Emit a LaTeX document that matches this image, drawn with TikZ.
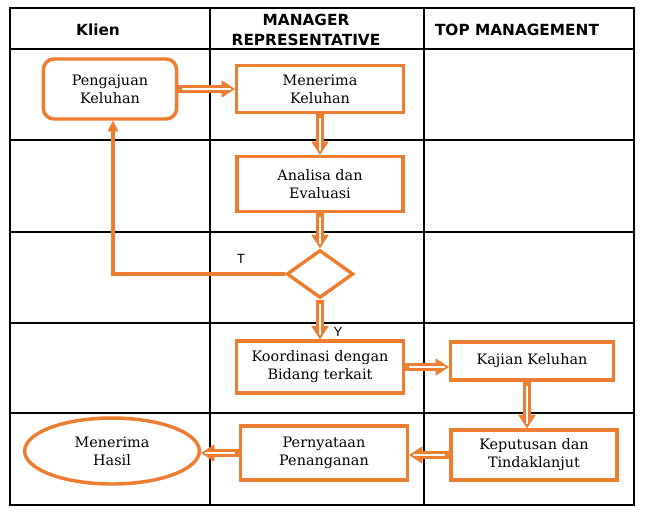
\documentclass[tikz,border=0pt]{standalone}
\usepackage{fontspec}
\setmainfont{DejaVu Serif}
\newfontfamily\headfont{DejaVu Sans}
\newfontfamily\lblfont{Liberation Sans}
\usetikzlibrary{arrows.meta,shapes.geometric,positioning}
\definecolor{oranye}{HTML}{ED7D31}

\begin{document}
\begin{tikzpicture}[x=0.75pt,y=-0.75pt,
  grid/.style={draw=black,line width=0.8pt},
  kepala/.style={font=\fontsize{11.5}{15}\selectfont\headfont\bfseries,align=center},
  box/.style={draw=oranye,line width=2.6pt,fill=white,align=center,
    font=\fontsize{10.8}{13.5}\selectfont,inner sep=2pt},
  panah/.style={draw=oranye,line width=5.5pt,
    -{Triangle[length=10pt,width=13pt,line width=0.4pt]},
    postaction={draw=white,line width=2pt,-,shorten >=3pt,shorten <=3pt}},
  garis/.style={draw=oranye,line width=2.3pt,
    -{Triangle[length=8pt,width=8pt,line width=0.4pt]}},
  huruf/.style={font=\fontsize{10}{12}\selectfont\lblfont}]
\useasboundingbox (0,0) rectangle (645,515);
% Tabel
\draw[grid] (10,8) rectangle (634,505);
\foreach \y in {49,140,232,323,413} \draw[grid] (10,\y) -- (634,\y);
\foreach \x in {210,424} \draw[grid] (\x,8) -- (\x,505);
% Judul kolom
\node[kepala] (hKlien) at (98,30) {Klien};
\node[kepala] (hManager) at (306,30) {MANAGER\\REPRESENTATIVE};
\node[kepala] (hTop) at (517,30) {TOP MANAGEMENT};
% Langkah-langkah
\node[box,rounded corners=8pt,minimum width=100pt,minimum height=45pt] (pengajuan) at (110,89) {Pengajuan\\Keluhan};
\node[box,minimum width=125pt,minimum height=35pt] (menerima) at (320,89) {Menerima\\Keluhan};
\node[box,minimum width=124.5pt,minimum height=41pt] (analisa) at (320,184) {Analisa dan\\Evaluasi};
\node[box,diamond,fill=white,minimum width=50pt,minimum height=36pt,inner sep=0pt] (cek) at (320,274) {};
\node[box,minimum width=125pt,minimum height=39pt] (koordinasi) at (320,367) {Koordinasi dengan\\Bidang terkait};
\node[box,minimum width=122pt,minimum height=28.5pt] (kajian) at (532,361) {Kajian Keluhan};
\node[box,minimum width=124.5pt,minimum height=37.5pt] (keputusan) at (534,455) {Keputusan dan\\Tindaklanjut};
\node[box,minimum width=125pt,minimum height=40.5pt] (pernyataan) at (324,453) {Pernyataan\\Penanganan};
\node[box,ellipse,minimum width=131pt,minimum height=49.5pt] (hasil) at (112,451) {Menerima\\Hasil};
% Panah
\draw[panah] (pengajuan.east) -- (menerima.west);
\draw[panah] (menerima.south) -- (analisa.north);
\draw[panah] (analisa.south) -- (cek.north);
\draw[panah] (cek.south) -- (koordinasi.north);
\draw[panah] (koordinasi.east) -- (koordinasi.east -| kajian.west);
\draw[panah] (kajian.south -| 527,0) -- (keputusan.north -| 527,0);
\draw[panah] (keputusan.west) -- (keputusan.west -| pernyataan.east);
\draw[panah] (pernyataan.west) -- (pernyataan.west -| hasil.east);
\draw[garis] (cek.west) -| ([xshift=2.25pt]pengajuan.south);
% Label cabang
\node[huruf] (lblT) at (241,259) {T};
\node[huruf] (lblY) at (338,332) {Y};
\end{tikzpicture}
\end{document}
